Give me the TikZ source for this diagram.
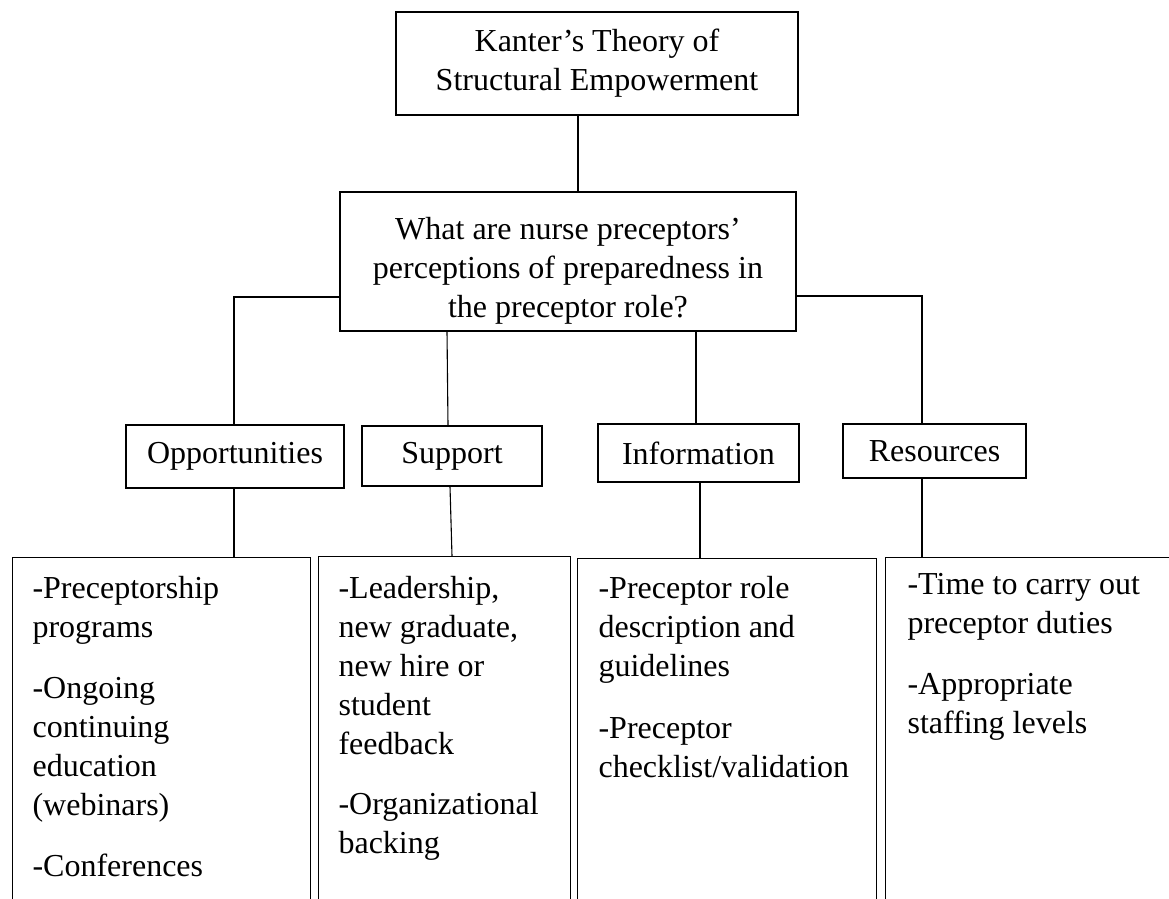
\documentclass[tikz,border=0pt]{standalone}
\usepackage{fontspec}
\setmainfont{Liberation Serif}
\usetikzlibrary{positioning}

\begin{document}
\begin{tikzpicture}[x=1pt, y=-1pt, line width=1.1pt,
box/.style={draw, inner sep=0pt, align=center, font=\fontsize{32}{39}\selectfont},
panel/.style={draw, anchor=north west, inner sep=0pt, minimum height=420pt},
itemtext/.style={align=left, inner sep=0pt, font=\fontsize{32}{39}\selectfont}]

\useasboundingbox (0,0) rectangle (1169,898);
\clip (0,0) rectangle (1169,898);

% top of the tree
\node [box, minimum width=402pt, minimum height=103pt] (kanter) at (597,63.5) {Kanter’s Theory of\\Structural Empowerment};
\node [box, minimum width=456pt, minimum height=139pt] (quest) at (568,261.5) {};
\node [box, draw=none] (questtext) at ([yshift=-9pt]quest.center) {What are nurse preceptors’\\perceptions of preparedness in\\the preceptor role?};

% the four components
\node [box, minimum width=218pt, minimum height=63pt] (opp) at (235,456.5) {Opportunities};
\node [box, minimum width=180pt, minimum height=60pt] (sup) at (452,456) {Support};
\node [box, minimum width=201pt, minimum height=58pt] (info) at (698.5,453) {Information};
\node [box, minimum width=183pt, minimum height=54pt] (res) at (934.5,451) {Resources};

% open panels at the bottom
\node [panel, minimum width=298pt] (oppbox) at (12,557) {};
\node [panel, minimum width=252pt] (supbox) at (318,556) {};
\node [panel, minimum width=299pt] (infobox) at (577,558) {};
\node [panel, minimum width=320pt] (resbox) at (885,557) {};

\node [itemtext, below right=19pt and 20pt of oppbox.north west] (opptext) {-Preceptorship\\programs\\[22pt]-Ongoing\\continuing\\education\\(webinars)\\[22pt]-Conferences};
\node [itemtext, below right=20pt and 20pt of supbox.north west] (suptext) {-Leadership,\\new graduate,\\new hire or\\student\\feedback\\[21pt]-Organizational\\backing};
\node [itemtext, below right=18pt and 21pt of infobox.north west] (infotext) {-Preceptor role\\description and\\guidelines\\[23pt]-Preceptor\\checklist/validation};
\node [itemtext, below right=16pt and 22pt of resbox.north west] (restext) {-Time to carry out\\preceptor duties\\[22pt]-Appropriate\\staffing levels};

% connectors
\draw (kanter.south -| 578,0) -- (quest.north -| 578,0);
\draw (quest.west |- 0,297) -| (opp.north -| 234,0);
\draw (quest.south -| 447,0) -- (sup.north -| 448,0);
\draw (quest.south -| 696,0) -- (info.north -| 696,0);
\draw (quest.east |- 0,296) -| (res.north -| 922,0);

\draw (opp.south -| 234,0) -- (oppbox.north -| 234,0);
\draw (sup.south -| 450,0) -- (supbox.north -| 452,0);
\draw (info.south -| 700,0) -- (infobox.north -| 700,0);
\draw (res.south -| 922,0) -- (resbox.north -| 922,0);

\end{tikzpicture}
\end{document}
